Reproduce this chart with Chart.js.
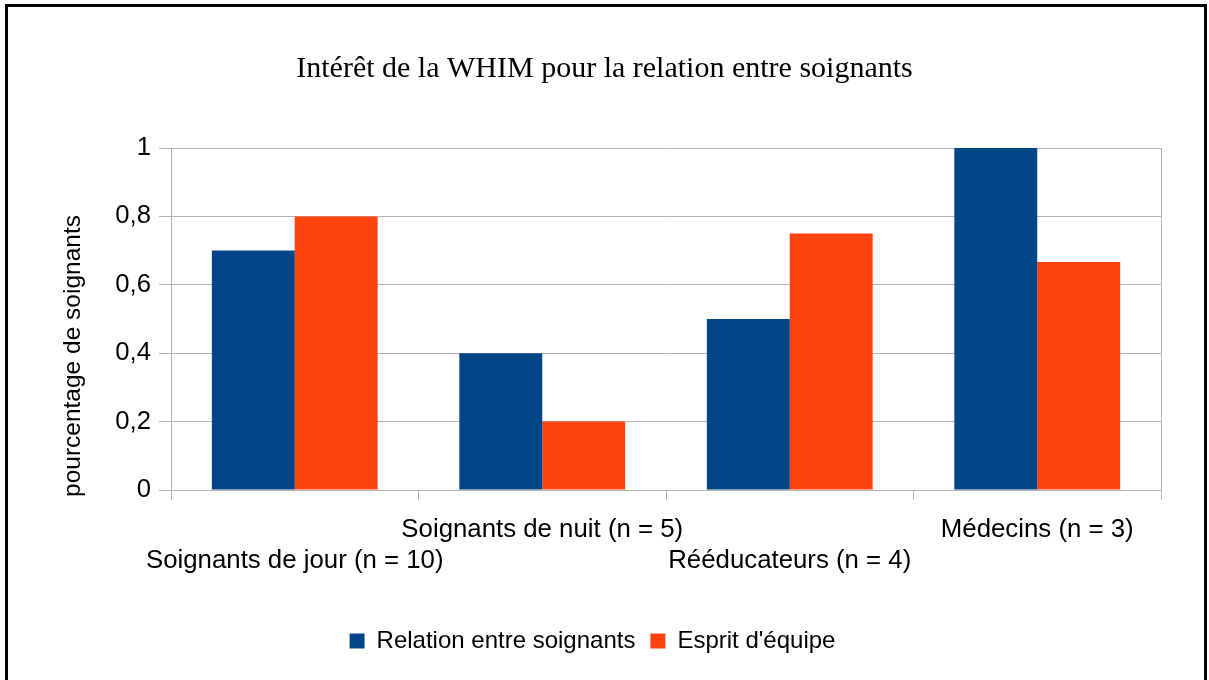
<!DOCTYPE html>
<html>
<head>
<meta charset="utf-8">
<script src="https://cdn.jsdelivr.net/npm/chart.js@4"></script>
<style>
  body { margin: 0; background: #fff; }
  #wrap { position: relative; width: 1209px; height: 680px; overflow: hidden; }
  #frame { position: absolute; left: 5px; top: 4px; width: 1196px; height: 700px; border: 3px solid #000; border-bottom: none; }
  canvas { position: absolute; left: 0; top: 0; }
</style>
</head>
<body>
<div id="wrap">
  <div id="frame"></div>
  <canvas id="chart" width="1209" height="680"></canvas>
</div>
<script>
const categories = ['Soignants de jour (n = 10)', 'Soignants de nuit (n = 5)', 'Rééducateurs (n = 4)', 'Médecins (n = 3)'];
const relation = [0.7, 0.4, 0.5, 1.0];
const esprit = [0.8, 0.2, 0.75, 0.667];
const yTicks = [0, 0.2, 0.4, 0.6, 0.8, 1];
const yTitle = 'pourcentage de soignants';

const gridGray = '#b3b3b3';
const sans = '"Liberation Sans", Arial, sans-serif';

// y axis title sits a bit below the middle of the axis in the original, so it is drawn here
const yTitlePlugin = {
    id: 'yTitle',
    afterLayout(chart) {
        // legend sits slightly left of the page centre
        chart.legend.left -= 12;
        chart.legend.right -= 12;
    },
    afterDraw(chart) {
        const c = chart.ctx;
        const area = chart.chartArea;
        c.save();
        c.translate(73, (area.top + area.bottom) / 2 + 37);
        c.rotate(-Math.PI / 2);
        c.fillStyle = '#000';
        c.font = '24.5px ' + sans;
        c.textAlign = 'center';
        c.textBaseline = 'middle';
        c.fillText(yTitle, 0, 0);
        c.restore();
    }
};

const ctx = document.getElementById('chart');

new Chart(ctx, {
    type: 'bar',
    data: {
        labels: categories,
        datasets: [{
            label: 'Relation entre soignants',
            data: relation,
            backgroundColor: '#004586',
            categoryPercentage: 0.67,
            barPercentage: 1.0
        }, {
            label: "Esprit d'équipe",
            data: esprit,
            backgroundColor: '#ff420e',
            categoryPercentage: 0.67,
            barPercentage: 1.0
        }]
    },
    plugins: [yTitlePlugin],
    options: {
        responsive: false,
        animation: false,
        layout: { padding: { left: 0, right: 0, top: 0, bottom: 17 } },
        plugins: {
            title: {
                display: true,
                text: 'Intérêt de la WHIM pour la relation entre soignants',
                color: '#000',
                font: { family: '"Liberation Serif", "Times New Roman", serif', size: 30, weight: 'normal' },
                padding: { top: 51, bottom: 61 }
            },
            legend: {
                position: 'bottom',
                labels: {
                    color: '#000',
                    boxWidth: 15,
                    boxHeight: 15,
                    padding: 15,
                    font: { family: sans, size: 24 }
                }
            },
            tooltip: { enabled: false }
        },
        scales: {
            x: {
                afterFit: function (scale) { scale.height = 124; },
                grid: {
                    drawOnChartArea: true,
                    color: function (c) { return (c.type === 'scale' || c.index === 0) ? gridGray : 'rgba(0,0,0,0)'; },
                    tickColor: gridGray,
                    tickLength: 10
                },
                border: { display: true, color: gridGray },
                ticks: {
                    color: '#000',
                    autoSkip: false,
                    maxRotation: 0,
                    minRotation: 0,
                    padding: 14,
                    font: { family: sans, size: 25.8, lineHeight: '31px' },
                    callback: function (value, index) {
                        const label = this.getLabelForValue(value);
                        return index % 2 === 0 ? ['', label] : [label];
                    }
                }
            },
            y: {
                min: 0,
                max: 1,
                afterFit: function (scale) { scale.width = 171; },
                afterBuildTicks: function (scale) { scale.ticks = yTicks.map(v => ({ value: v })); },
                grid: { color: gridGray, tickLength: 12 },
                border: { display: true, color: gridGray },
                ticks: {
                    color: '#000',
                    padding: 8,
                    font: { family: sans, size: 25.7 },
                    callback: function (value) { return String(Math.round(value * 10) / 10).replace('.', ','); }
                }
            },
            // empty right margin so the plot ends where the original does
            yr: {
                type: 'linear',
                position: 'right',
                afterFit: function (scale) { scale.width = 48; },
                grid: { display: false },
                border: { display: false },
                ticks: { display: false }
            }
        }
    }
});
</script>
</body>
</html>
